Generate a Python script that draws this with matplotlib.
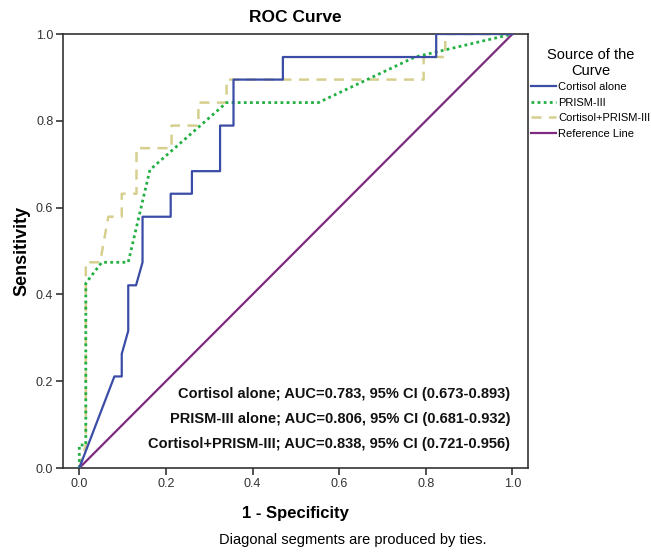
import numpy as np
import matplotlib
matplotlib.use('Agg')
import matplotlib.pyplot as plt
from matplotlib import font_manager

plt.rcParams['font.family'] = ['Liberation Sans', 'DejaVu Sans']

# ROC curves (1 - specificity, sensitivity)
cortisol_x = [0, 0.081, 0.098, 0.098, 0.113, 0.113, 0.131, 0.146, 0.146, 0.211, 0.211,
              0.26, 0.26, 0.325, 0.325, 0.356, 0.356, 0.47, 0.47, 0.824, 0.824, 1.0]
cortisol_y = [0, 0.211, 0.211, 0.263, 0.316, 0.421, 0.421, 0.474, 0.579, 0.579, 0.632,
              0.632, 0.684, 0.684, 0.789, 0.789, 0.895, 0.895, 0.947, 0.947, 1.0, 1.0]

prism_x = [0, 0, 0.015, 0.015, 0.052, 0.113, 0.163, 0.34, 0.552, 0.775, 1.0]
prism_y = [0, 0.053, 0.053, 0.426, 0.474, 0.474, 0.687, 0.842, 0.842, 0.947, 1.0]

combo_x = [0, 0.015, 0.015, 0.048, 0.067, 0.098, 0.098, 0.132, 0.132, 0.213, 0.213,
           0.275, 0.275, 0.34, 0.34, 0.795, 0.795, 0.845, 0.845, 1.0]
combo_y = [0, 0.053, 0.474, 0.474, 0.579, 0.579, 0.632, 0.632, 0.737, 0.737, 0.789,
           0.789, 0.842, 0.842, 0.895, 0.895, 0.947, 0.947, 1.0, 1.0]

ref_x = [0, 1]
ref_y = [0, 1]

labels = ['Cortisol alone', 'PRISM-III', 'Cortisol+PRISM-III', 'Reference Line']
auc_text = ['Cortisol alone; AUC=0.783, 95% CI (0.673-0.893)',
            'PRISM-III alone; AUC=0.806, 95% CI (0.681-0.932)',
            'Cortisol+PRISM-III; AUC=0.838, 95% CI (0.721-0.956)']

# narrow face for the legend if it is there
names = {f.name for f in font_manager.fontManager.ttflist}
if 'Liberation Sans Narrow' in names:
    leg_font = {'family': 'Liberation Sans Narrow', 'size': 9.5}
else:
    leg_font = {'family': 'Liberation Sans', 'size': 8}

fig = plt.figure(figsize=(6.51, 5.54), dpi=100)
ax = fig.add_axes([0.0968, 0.1552, 0.7143, 0.7834])

ax.plot(ref_x, ref_y, color='#7d2a7f', lw=1.6, label=labels[3], zorder=2)
ax.plot(combo_x, combo_y, color='#d6cf8e', lw=1.8, ls=(0, (4, 3)), label=labels[2], zorder=3)
ax.plot(prism_x, prism_y, color='#22b043', lw=2.0, ls=(0, (1, 1.2)), label=labels[1], zorder=4)
ax.plot(cortisol_x, cortisol_y, color='#3a4ca6', lw=1.6, label=labels[0], zorder=5)

ax.set_xlim(-0.0376, 1.036)
ax.set_ylim(0, 1)
ticks = np.arange(0, 1.01, 0.2)
ax.set_xticks(ticks)
ax.set_yticks(ticks)
ax.set_xticklabels([f'{v:.1f}' for v in ticks])
ax.set_yticklabels([f'{v:.1f}' for v in ticks])
ax.tick_params(direction='out', length=5, width=1.2, labelsize=9, colors='#333333', pad=2)
for s in ax.spines.values():
    s.set_linewidth(1.2)
    s.set_color('#333333')

ax.set_title('ROC Curve', fontsize=12.5, fontweight='bold', pad=9)
ax.set_xlabel('1 - Specificity', fontsize=12, fontweight='bold', labelpad=12)
ax.set_ylabel('Sensitivity', fontsize=13, fontweight='bold', labelpad=4)

for i, t in enumerate(auc_text):
    ax.text(0.995, 0.171 - i * 0.0576, t, ha='right', va='center',
            fontsize=10.5, fontweight='bold', color='#111111')

# legend reordered like the picture
h, l = ax.get_legend_handles_labels()
order = [3, 2, 1, 0]
leg = fig.legend([h[i] for i in order], [l[i] for i in order],
                 title='Source of the\nCurve', loc='upper left',
                 bbox_to_anchor=(0.815, 0.914), frameon=False, prop=leg_font,
                 title_fontsize=10.5, handlelength=2.3, handletextpad=0.2,
                 labelspacing=0.5, borderaxespad=0, borderpad=0)
leg._legend_box.align = 'center'
leg._legend_box.sep = 3
leg.get_title().set_multialignment('center')
leg.get_title().set_family('Liberation Sans')

fig.text(0.542, 0.012, 'Diagonal segments are produced by ties.', ha='center',
         va='bottom', fontsize=10.5)

fig.savefig('out.png', dpi=100)
